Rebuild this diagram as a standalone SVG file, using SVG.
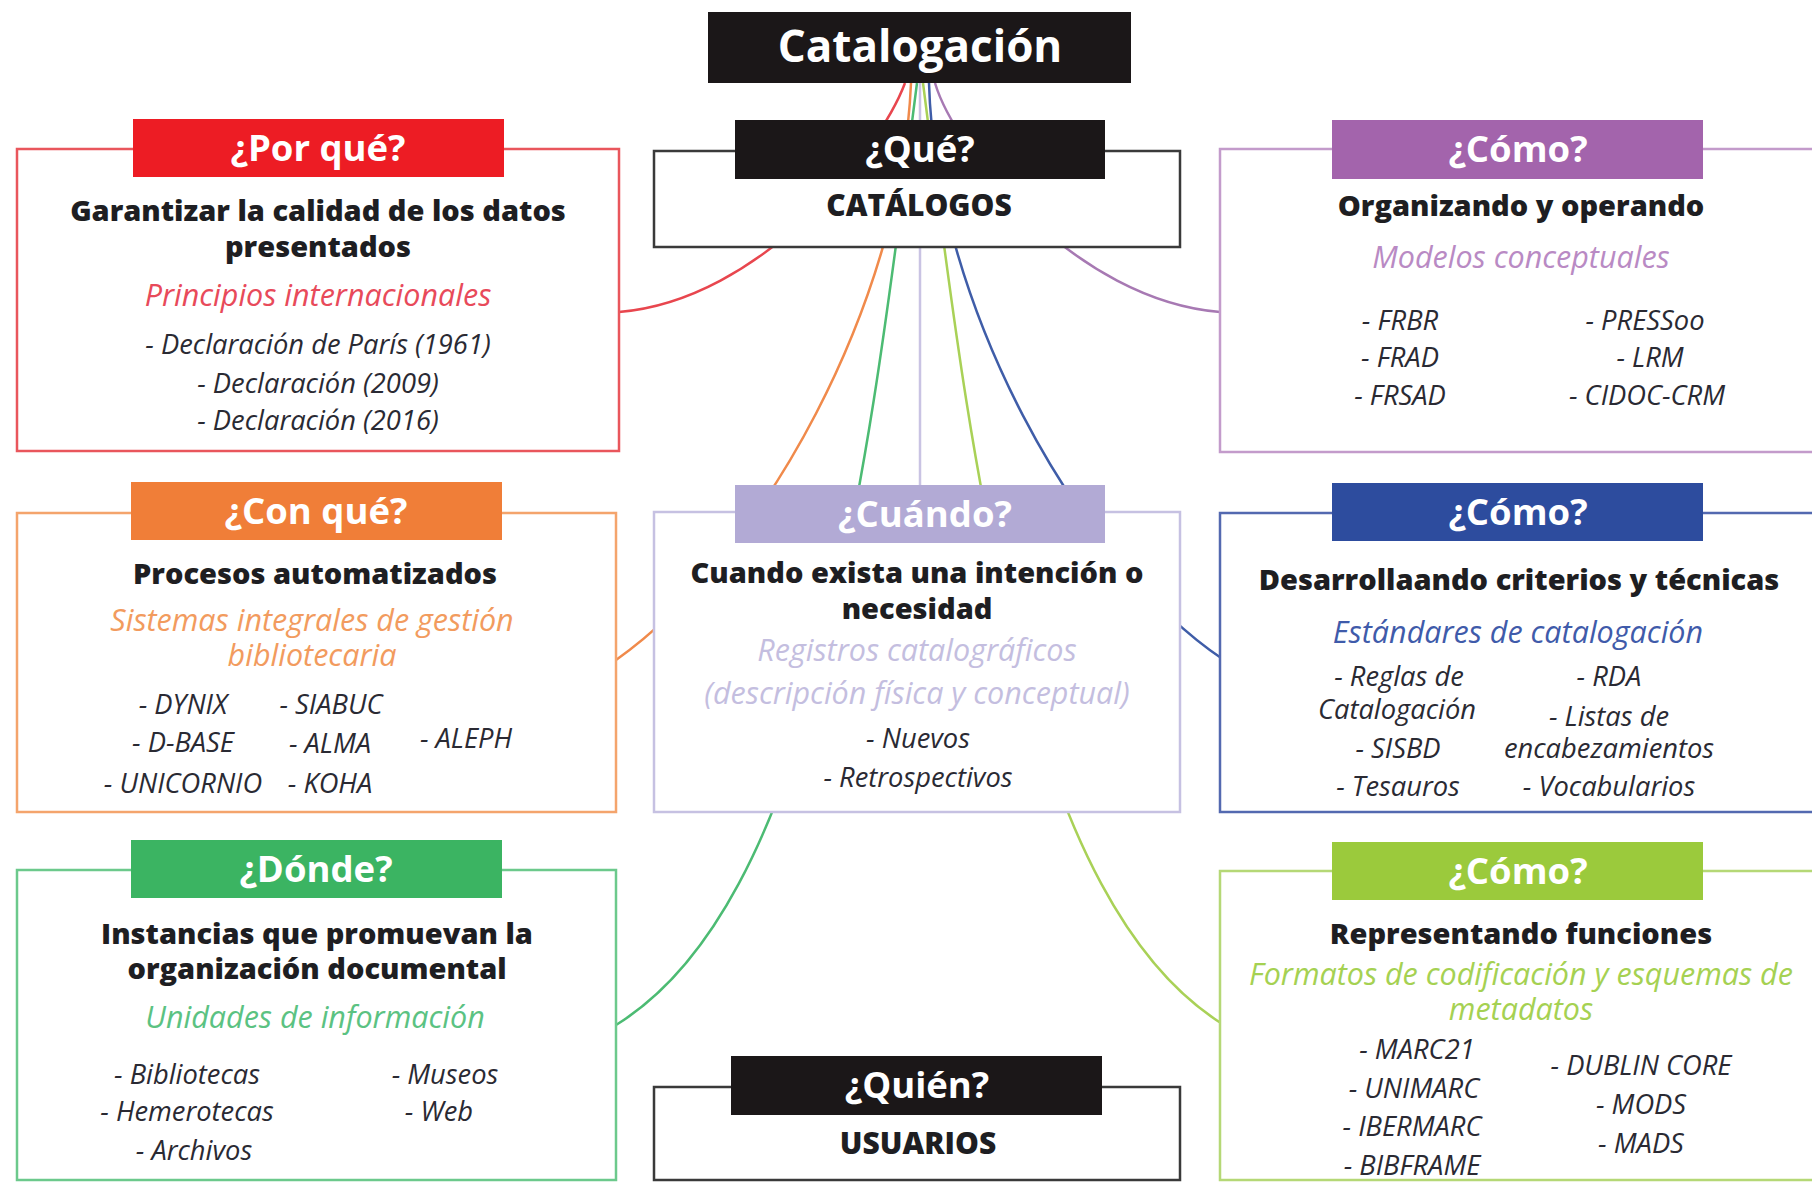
<svg xmlns="http://www.w3.org/2000/svg" width="1812" height="1182" viewBox="0 0 1812 1182">
<style>
text{font-family:"Open Sans","Noto Sans","Liberation Sans",sans-serif;text-anchor:middle}
.box{fill:#fff;stroke-width:2.5}
.ttl{font-size:44px;font-weight:700;fill:#fff}
.hd{font-size:36.5px;font-weight:700;fill:#fff}
.b{font-size:29px;font-weight:800;fill:#1e1e22}
.k{font-size:30px;font-weight:800;fill:#1e1e22}
.s{font-size:30.5px;font-style:italic}
.i{font-size:27.3px;font-style:italic;fill:#2a2a33}
.c{fill:none;stroke-width:2.5}
</style>
<rect width="1812" height="1182" fill="#fff"/>
<g id="connectors">
<path class="c" stroke="#E8464E" d="M905 83 C880 150 762 300 619 312"/>
<path class="c" stroke="#F08A4B" d="M911 83 C902 300 765 555 616 660"/>
<path class="c" stroke="#4CBB73" d="M917 83 C870 450 820 900 616 1025"/>
<path class="c" stroke="#C9C3E3" d="M920 83 L920 512"/>
<path class="c" stroke="#A9D157" d="M923 83 C970 450 1020 900 1224 1025"/>
<path class="c" stroke="#3F5DA8" d="M929 83 C935 300 1075 560 1224 660"/>
<path class="c" stroke="#A779B3" d="M935 83 C955 150 1075 300 1220 312"/>
</g>
<g id="title">
<rect x="708" y="12" width="423" height="71" fill="#1b1718"/>
<text class="ttl" x="920" y="62">Catalogación</text>
</g>
<g id="porque">
<rect class="box" x="17" y="149" width="602" height="302" stroke="#E9565C"/>
<rect x="133" y="119" width="371" height="58" fill="#ED1C24"/>
<text class="hd" x="318" y="161">¿Por qué?</text>
<text class="b" x="318" y="221">Garantizar la calidad de los datos</text>
<text class="b" x="318" y="257">presentados</text>
<text class="s" x="318" y="306" fill="#E84A5A">Principios internacionales</text>
<text class="i" x="318" y="354">- Declaración de París (1961)</text>
<text class="i" x="318" y="393">- Declaración (2009)</text>
<text class="i" x="318" y="430">- Declaración (2016)</text>
</g>
<g id="que">
<rect class="box" x="654" y="151" width="526" height="96" stroke="#3a3a3a"/>
<rect x="735" y="120" width="370" height="59" fill="#1b1718"/>
<text class="hd" x="920" y="162">¿Qué?</text>
<text class="k" x="919" y="216">CATÁLOGOS</text>
</g>
<g id="como1">
<rect class="box" x="1220" y="149" width="610" height="303" stroke="#C39BCB"/>
<rect x="1332" y="120" width="371" height="59" fill="#A364AC"/>
<text class="hd" x="1518" y="162">¿Cómo?</text>
<text class="b" x="1521" y="216">Organizando y operando</text>
<text class="s" x="1521" y="268" fill="#B98AC4">Modelos conceptuales</text>
<text class="i" x="1400" y="330">- FRBR</text>
<text class="i" x="1400" y="367">- FRAD</text>
<text class="i" x="1400" y="405">- FRSAD</text>
<text class="i" x="1645" y="330">- PRESSoo</text>
<text class="i" x="1650" y="367">- LRM</text>
<text class="i" x="1647" y="405">- CIDOC-CRM</text>
</g>
<g id="conque">
<rect class="box" x="17" y="513" width="599" height="299" stroke="#F4A46C"/>
<rect x="131" y="482" width="371" height="58" fill="#F07E38"/>
<text class="hd" x="316" y="524">¿Con qué?</text>
<text class="b" x="315" y="584">Procesos automatizados</text>
<text class="s" x="312" y="631" fill="#F29B5E">Sistemas integrales de gestión</text>
<text class="s" x="312" y="666" fill="#F29B5E">bibliotecaria</text>
<text class="i" x="183" y="714">- DYNIX</text>
<text class="i" x="183" y="752">- D-BASE</text>
<text class="i" x="183" y="793">- UNICORNIO</text>
<text class="i" x="331" y="714">- SIABUC</text>
<text class="i" x="330" y="753">- ALMA</text>
<text class="i" x="330" y="793">- KOHA</text>
<text class="i" x="466" y="748">- ALEPH</text>
</g>
<g id="cuando">
<rect class="box" x="654" y="512" width="526" height="300" stroke="#C6C1E2"/>
<rect x="735" y="485" width="370" height="58" fill="#B2AAD5"/>
<text class="hd" x="925" y="527">¿Cuándo?</text>
<text class="b" x="917" y="583">Cuando exista una intención o</text>
<text class="b" x="917" y="619">necesidad</text>
<text class="s" x="917" y="661" fill="#C4BEDF">Registros catalográficos</text>
<text class="s" x="917" y="704" fill="#C4BEDF">(descripción física y conceptual)</text>
<text class="i" x="918" y="748">- Nuevos</text>
<text class="i" x="918" y="787">- Retrospectivos</text>
</g>
<g id="como2">
<rect class="box" x="1220" y="513" width="610" height="299" stroke="#5369B0"/>
<rect x="1332" y="483" width="371" height="58" fill="#2D4C9E"/>
<text class="hd" x="1518" y="525">¿Cómo?</text>
<text class="b" x="1519" y="590">Desarrollaando criterios y técnicas</text>
<text class="s" x="1518" y="643" fill="#3F5BAA">Estándares de catalogación</text>
<text class="i" x="1399" y="686">- Reglas de</text>
<text class="i" x="1397" y="719">Catalogación</text>
<text class="i" x="1398" y="758">- SISBD</text>
<text class="i" x="1398" y="796">- Tesauros</text>
<text class="i" x="1609" y="686">- RDA</text>
<text class="i" x="1609" y="726">- Listas de</text>
<text class="i" x="1609" y="758">encabezamientos</text>
<text class="i" x="1609" y="796">- Vocabularios</text>
</g>
<g id="donde">
<rect class="box" x="17" y="870" width="599" height="310" stroke="#6CC98C"/>
<rect x="131" y="840" width="371" height="58" fill="#3BB462"/>
<text class="hd" x="316" y="882">¿Dónde?</text>
<text class="b" x="317" y="944">Instancias que promuevan la</text>
<text class="b" x="317" y="979">organización documental</text>
<text class="s" x="315" y="1028" fill="#5BC282">Unidades de información</text>
<text class="i" x="187" y="1084">- Bibliotecas</text>
<text class="i" x="187" y="1121">- Hemerotecas</text>
<text class="i" x="194" y="1160">- Archivos</text>
<text class="i" x="445" y="1084">- Museos</text>
<text class="i" x="439" y="1121">- Web</text>
</g>
<g id="quien">
<rect class="box" x="654" y="1087" width="526" height="93" stroke="#3a3a3a"/>
<rect x="731" y="1056" width="371" height="59" fill="#1b1718"/>
<text class="hd" x="917" y="1098">¿Quién?</text>
<text class="k" x="918" y="1154">USUARIOS</text>
</g>
<g id="como3">
<rect class="box" x="1220" y="871" width="610" height="309" stroke="#B5D876"/>
<rect x="1332" y="842" width="371" height="58" fill="#9BCA3C"/>
<text class="hd" x="1518" y="884">¿Cómo?</text>
<text class="b" x="1521" y="944">Representando funciones</text>
<text class="s" x="1521" y="985" fill="#A5D152">Formatos de codificación y esquemas de</text>
<text class="s" x="1521" y="1020" fill="#A5D152">metadatos</text>
<text class="i" x="1417" y="1059">- MARC21</text>
<text class="i" x="1414" y="1098">- UNIMARC</text>
<text class="i" x="1412" y="1136">- IBERMARC</text>
<text class="i" x="1412" y="1175">- BIBFRAME</text>
<text class="i" x="1641" y="1075">- DUBLIN CORE</text>
<text class="i" x="1641" y="1114">- MODS</text>
<text class="i" x="1641" y="1153">- MADS</text>
</g>
</svg>
